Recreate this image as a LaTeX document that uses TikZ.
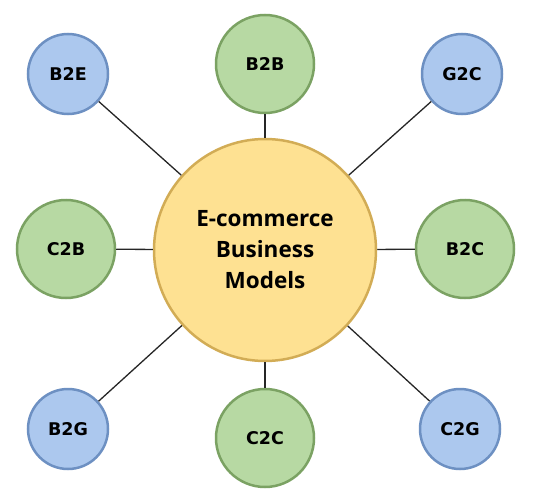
\documentclass[tikz,border=0pt]{standalone}
\usepackage{fontspec}
\setmainfont{Open Sans}
\newfontfamily\labelfont{DejaVu Sans}
\definecolor{hubfill}{HTML}{FEE192}
\definecolor{hubedge}{HTML}{D2AC55}
\definecolor{greenfill}{HTML}{B7D9A3}
\definecolor{greenedge}{HTML}{7BA263}
\definecolor{bluefill}{HTML}{ACC8EE}
\definecolor{blueedge}{HTML}{6D90C2}
\tikzset{
  hub/.style={circle, fill=hubfill, draw=hubedge, line width=2.5pt, minimum size=222pt,
    inner sep=0pt, align=center, font=\fontsize{22.5}{31}\selectfont\bfseries},
  gmodel/.style={circle, fill=greenfill, draw=greenedge, line width=2.5pt, minimum size=98pt,
    inner sep=0pt, font=\labelfont\fontsize{17.5}{21}\selectfont\bfseries},
  bmodel/.style={circle, fill=bluefill, draw=blueedge, line width=2.5pt, minimum size=80pt,
    inner sep=0pt, font=\labelfont\fontsize{17.5}{21}\selectfont\bfseries},
  link/.style={line width=1.3pt, black!85}
}
\begin{document}
\begin{tikzpicture}[x=1pt,y=-1pt]
    \useasboundingbox (0,0) rectangle (538,503);
    %Hub
    \node[hub] (hub) at (265,250) {E-commerce\\Business\\Models};

    %Models
    \node[gmodel] (b2b) at (265,64) {B2B};
    \node[gmodel] (c2b) at (66,249) {C2B};
    \node[gmodel] (b2c) at (465,249) {B2C};
    \node[gmodel] (c2c) at (265,438) {C2C};
    \node[bmodel] (b2e) at (68,74) {B2E};
    \node[bmodel] (g2c) at (462,74) {G2C};
    \node[bmodel] (b2g) at (68,429) {B2G};
    \node[bmodel] (c2g) at (460,429) {C2G};

    %Links
    \draw[link] (hub) -- (b2b);
    \draw[link] (hub) -- (c2b);
    \draw[link] (hub) -- (b2c);
    \draw[link] (hub) -- (c2c);
    \draw[link] (hub) -- (b2e);
    \draw[link] (hub) -- (g2c);
    \draw[link] (hub) -- (b2g);
    \draw[link] (hub) -- (c2g);
  \end{tikzpicture}
\end{document}
